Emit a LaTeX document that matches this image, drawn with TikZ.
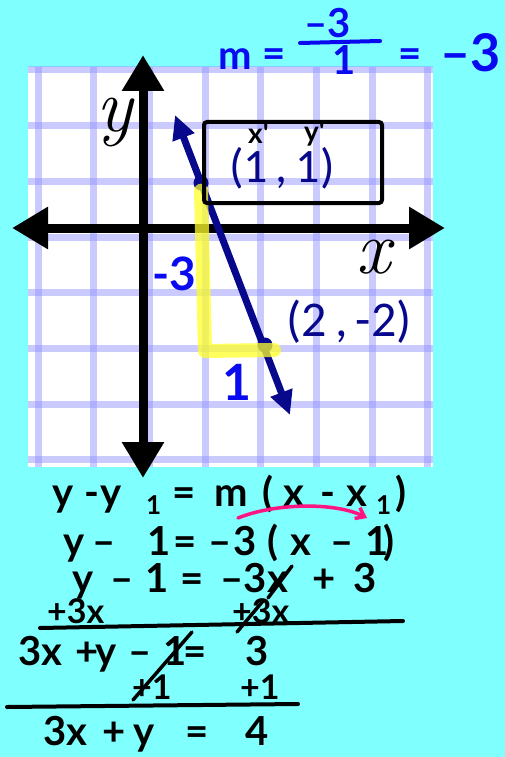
\documentclass[tikz,border=0pt]{standalone}
\usepackage{fontspec}
\newfontfamily\hand{Lato}
\newfontfamily\calib{Carlito}
\usetikzlibrary{positioning, arrows.meta}

\definecolor{bgcyan}{RGB}{128,255,255}
\definecolor{gridblue}{RGB}{150,150,255}
\definecolor{navyline}{RGB}{8,8,140}
\definecolor{penblue}{RGB}{10,10,240}
\definecolor{penpink}{RGB}{255,20,130}
\definecolor{hlyellow}{RGB}{255,255,40}

\begin{document}
\begin{tikzpicture}[x=1pt, y=-1pt,
    gridln/.style={draw=gridblue, line width=7pt, opacity=0.5},
    axisln/.style={line width=9pt, {Triangle[length=36pt,width=40pt]}-{Triangle[length=36pt,width=40pt]}},
    navyarr/.style={navyline, line width=7pt, {Triangle[length=24pt,width=22pt]}-{Triangle[length=24pt,width=22pt]}},
    ptdot/.style={circle, fill=navyline, minimum size=15pt, inner sep=0pt},
    hilite/.style={hlyellow, line width=14pt, opacity=0.75, line cap=round, line join=round},
    hw/.style={font=\hand\bfseries\fontsize{40}{40}\selectfont, anchor=base west, inner sep=0pt},
    hwsmall/.style={hw, font=\hand\bfseries\fontsize{34}{34}\selectfont},
    subscr/.style={hw, font=\hand\bfseries\fontsize{26}{26}\selectfont},
    bluehw/.style={hw, text=penblue},
    ptlbl/.style={font=\calib\fontsize{48}{48}\selectfont, text=navyline, inner sep=0pt},
    axlbl/.style={font=\itshape\fontsize{76}{76}\selectfont, inner sep=0pt},
    ink/.style={line width=3.5pt, line cap=round},
]

% background
\fill[bgcyan] (0,0) rectangle (505,757);
\useasboundingbox (0,0) rectangle (505,757);

% graph paper
\fill[white] (28,67) rectangle (433,467);
\foreach \i in {0,...,7}{
    \draw[gridln] ({38+55.7*\i},67) -- ({38+55.7*\i},467);
    \draw[gridln] (28,{70+55.7*\i}) -- (433,{70+55.7*\i});
}

% axes
\coordinate (ytop) at (143,55);
\coordinate (ybot) at (143,478);
\coordinate (xlft) at (12,228);
\coordinate (xrgt) at (445,228);
\draw[axisln] (ybot) -- (ytop);
\draw[axisln] (xlft) -- (xrgt);
\node[axlbl] (ylbl) at (115,122) {y};
\node[axlbl] (xlbl) at (374,257) {x};

% the line and its two points
\coordinate (ltop) at (175,115);
\coordinate (lbot) at (290,415);
\draw[navyarr] (ltop) -- (lbot);
\node[ptdot] (p11) at (201,183) {};
\node[ptdot] (p22) at (265,345) {};

% rise and run
\coordinate (hlc) at (205,351);
\draw[hilite] (p11.south) -- (hlc) -- ([xshift=9pt,yshift=-5pt]p22.center);
\node[bluehw, font=\hand\bfseries\fontsize{46}{46}\selectfont] (rise) at (152,290) {-3};
\node[bluehw, font=\hand\bfseries\fontsize{50}{50}\selectfont] (run) at (222,400) {1};

% point labels
\node[ptlbl] (c11) at (282,168) {(1\,,\,1)};
\node[ptlbl, font=\calib\fontsize{50}{50}\selectfont] (c22) at (349,322) {(2\,,\,-2)};
\draw[ink, line width=4pt, rounded corners=3pt] (204,122) rectangle (382,203);
\node[hw, font=\hand\bfseries\fontsize{28}{28}\selectfont] (xone) at (248,143) {x'};
\node[hw, font=\hand\bfseries\fontsize{28}{28}\selectfont] (yone) at (304,141) {y'};

% slope
\node[bluehw] (mlbl) at (218,70) {m};
\node[bluehw] (eqa) at (262,68) {=};
\node[bluehw] (num) at (304,38) {–3};
\draw[ink, penblue, line width=4pt] (300,43) -- (380,41);
\node[bluehw] (den) at (332,75) {1};
\node[bluehw] (eqb) at (398,68) {=};
\node[bluehw, font=\hand\bfseries\fontsize{52}{52}\selectfont] (mval) at (440,72) {–3};

% point-slope form
\foreach \px/\tx [count=\i] in {52/y, 84/-, 100/y, 172/=, 214/m, 262/{(}, 283/x, 320/-, 346/x, 395/{)}}
    \node[hw] (la\i) at (\px,506) {\tx};
\node[subscr] (las1) at (146,514) {1};
\node[subscr] (las2) at (376,514) {1};

\coordinate (pka) at (238,518);
\coordinate (pkb) at (367,518);
\draw[ink, penpink, -{Straight Barb[length=8pt,width=12pt]}] (pka) .. controls (275,503) and (335,502) .. (pkb);

\foreach \px/\tx [count=\i] in {63/y, 92/–, 147/1, 173/=, 208/–, 233/3, 267/{(}, 290/x, 330/–, 365/1, 383/{)}}
    \node[hw] (lb\i) at (\px,555) {\tx};

\foreach \px/\tx [count=\i] in {72/y, 110/–, 145/1, 180/=, 220/–, 243/3, 267/x, 312/+, 353/3}
    \node[hw] (lc\i) at (\px,592) {\tx};
\draw[ink] (268,598) -- (292,566);

% add 3x to both sides
\node[hwsmall] (ld1) at (47,623) {+3x};
\node[hwsmall] (ld2) at (232,623) {+3x};
\draw[ink] (237,632) -- (263,601);
\draw[ink, line width=4pt] (40,628) -- (403,621);

\foreach \px/\tx [count=\i] in {18/3x, 75/+, 95/y, 128/–, 163/1, 183/=, 245/3}
    \node[hw] (le\i) at (\px,665) {\tx};
\draw[ink] (133,700) -- (192,632);

% add 1 to both sides
\node[hwsmall] (lf1) at (132,699) {+1};
\node[hwsmall] (lf2) at (240,699) {+1};
\draw[ink, line width=4pt] (7,707) -- (298,704);

\foreach \px/\tx [count=\i] in {43/3x, 102/+, 133/y, 185/=, 245/4}
    \node[hw] (lg\i) at (\px,745) {\tx};

\end{tikzpicture}
\end{document}
